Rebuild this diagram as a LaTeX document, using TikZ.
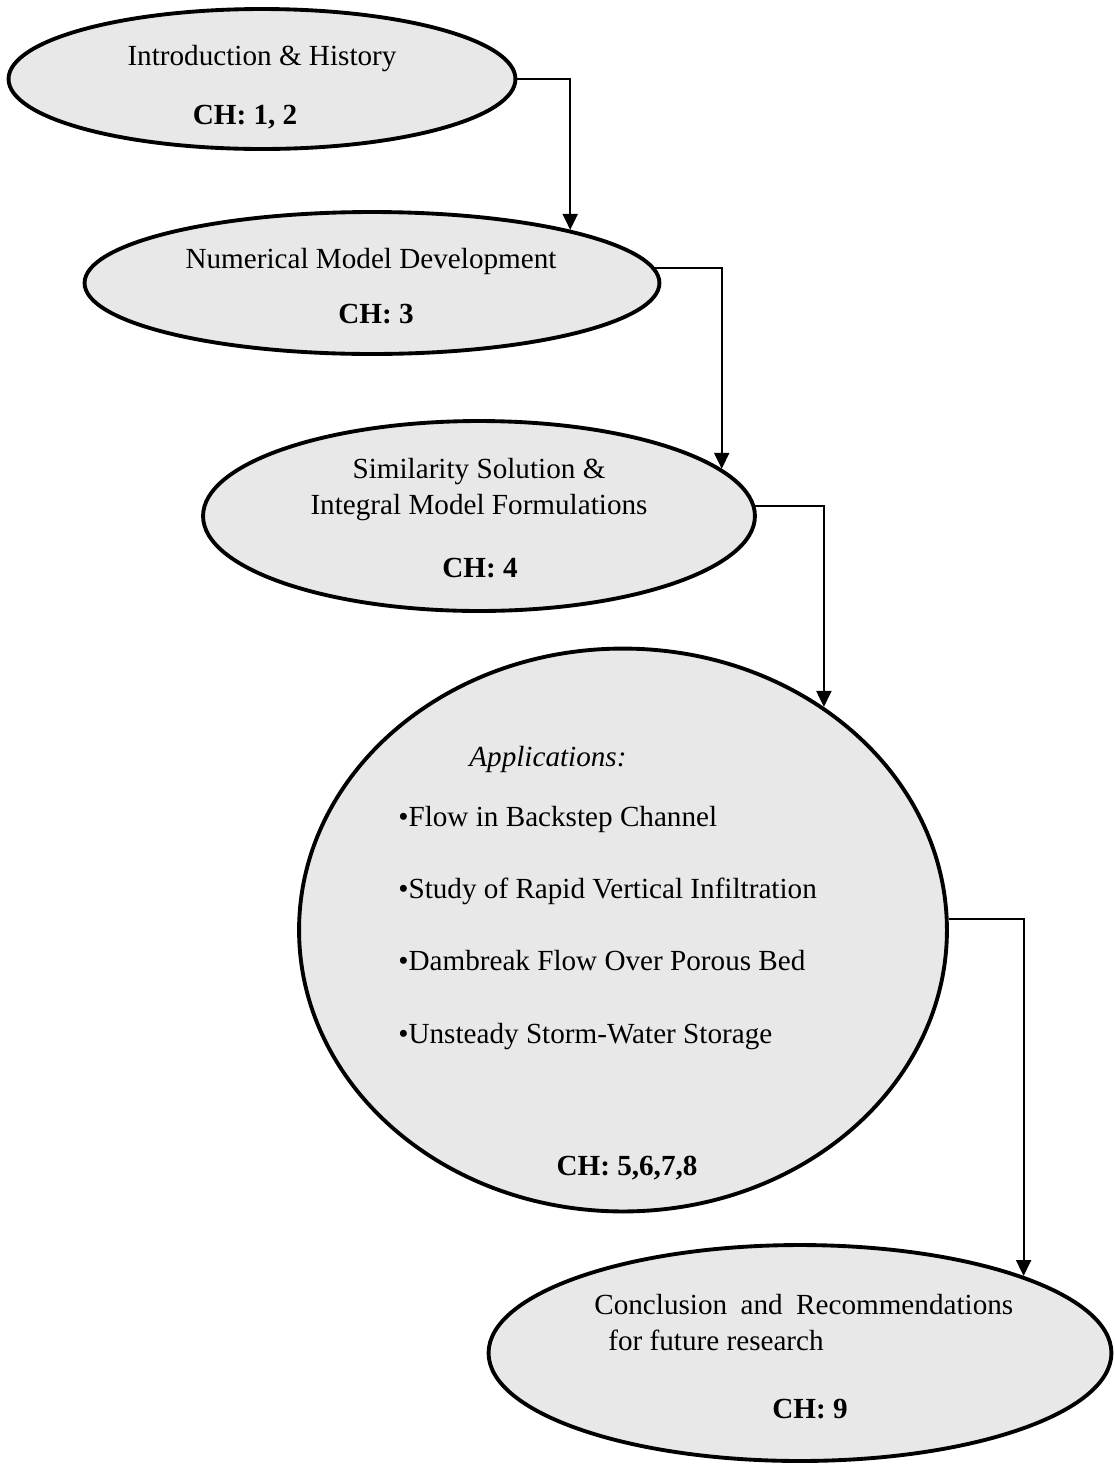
\documentclass[tikz,border=0pt]{standalone}
\usepackage{fontspec}
\setmainfont{Liberation Serif}
\usetikzlibrary{arrows.meta,calc,positioning,shapes.geometric}
\definecolor{chapfill}{HTML}{E8E8E8}
\tikzset{%
  chapter/.style={%
    ellipse,
    draw=black,
    fill=chapfill,
    line width=2.2pt,
    inner sep=0pt
  },
  chaptext/.style={%
    inner sep=0pt,
    font=\fontsize{16.6}{20.5}\selectfont
  },
  chapnum/.style={%
    chaptext,
    font=\fontsize{16.6}{20.5}\selectfont\bfseries
  },
  chaparrow/.style={-{Triangle[length=3.2mm,width=3mm]},line width=1.2pt,draw=black}
}

\begin{document}
\begin{tikzpicture}[x=0.02cm,y=-0.02cm]
    \useasboundingbox (0,0) rectangle (1115,1468);

    % chapter ellipses
    \node[chapter,minimum width=10.14cm,minimum height=2.8cm] (intro) at (262,79) {};
    \node[chapter,minimum width=11.5cm,minimum height=2.84cm] (model) at (372,283) {};
    \node[chapter,minimum width=11.04cm,minimum height=3.8cm] (simil) at (479,516) {};
    \node[chapter,minimum width=12.96cm,minimum height=11.26cm] (appl) at (623,930) {};
    \node[chapter,minimum width=12.46cm,minimum height=4.32cm] (concl) at (800,1353) {};

    % texts
    \node[chaptext,anchor=base] (intro-t) at (262,65) {Introduction \& History};
    \node[chapnum,anchor=base] (intro-ch) at (245,124) {CH: 1, 2};

    \node[chaptext,anchor=base] (model-t) at (371,268) {Numerical Model Development};
    \node[chapnum,anchor=base] (model-ch) at (376,323) {CH: 3};

    \node[chaptext,anchor=base] (simil-t1) at (479,478) {Similarity Solution \&};
    \node[chaptext,anchor=base] (simil-t2) at (479,514) {Integral Model Formulations};
    \node[chapnum,anchor=base] (simil-ch) at (480,577) {CH: 4};

    \node[chaptext,anchor=base west] (appl-t) at (469,766) {\itshape Applications:};
    \node[chaptext,anchor=base west] (appl-a) at (398,826) {•Flow in Backstep Channel};
    \node[chaptext,anchor=base west] (appl-b) at (398,898) {•Study of Rapid Vertical Infiltration};
    \node[chaptext,anchor=base west] (appl-c) at (398,970) {•Dambreak Flow Over Porous Bed};
    \node[chaptext,anchor=base west] (appl-d) at (398,1043) {•Unsteady Storm-Water Storage};
    \node[chapnum,anchor=base] (appl-ch) at (627,1175) {CH: 5,6,7,8};

    \node[chaptext,anchor=base west] (concl-t1) at (594,1314) {Conclusion\hspace{0.46em}and\hspace{0.46em}Recommendations};
    \node[chaptext,anchor=base west] (concl-t2) at (608,1350) {for future research};
    \node[chapnum,anchor=base] (concl-ch) at (810,1418) {CH: 9};

    % connectors
    \draw[chaparrow] (intro.east) -| (model.15);
    \draw[chaparrow] (model.3) -| (simil.11.5);
    \draw[chaparrow] (simil.2) -| (appl.48.7);
    \draw[chaparrow] (appl.2.3) -| (concl.19.5);
\end{tikzpicture}
\end{document}
